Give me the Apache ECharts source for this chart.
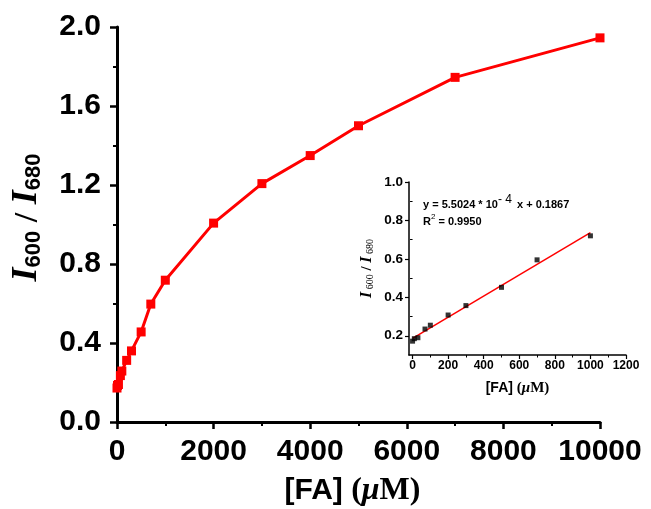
<!DOCTYPE html>
<html>
<head>
<meta charset="utf-8">
<script src="https://cdn.jsdelivr.net/npm/echarts@6/dist/echarts.min.js"></script>
<style>html,body{margin:0;padding:0;background:#fff;}#c{width:651px;height:509px;}</style>
</head>
<body>
<div id="c"></div>
<script>
// Main curve data
var mainX = [0, 10, 30, 70, 100, 200, 300, 500, 700, 1000, 2000, 3000, 4000, 5000, 7000, 10000];
var mainY = [0.172, 0.185, 0.19, 0.235, 0.258, 0.312, 0.36, 0.456, 0.597, 0.718, 1.007, 1.207, 1.349, 1.50, 1.745, 1.945];
// Inset data (linear range)
var insetX = [0, 10, 30, 70, 100, 200, 300, 500, 700, 1000];
var insetY = [0.172, 0.185, 0.19, 0.235, 0.255, 0.308, 0.357, 0.452, 0.595, 0.72];
// Fit
var fitSlope = 5.5024e-4, fitIntercept = 0.1867;
var fitX = [0, 1000];
// Tick labels
var mainXTicks = [0, 2000, 4000, 6000, 8000, 10000];
var mainYTicks = [0.0, 0.4, 0.8, 1.2, 1.6, 2.0];
var insetXTicks = [0, 200, 400, 600, 800, 1000, 1200];
var insetXMinor = [100, 300, 500, 700, 900, 1100];
var insetYTicks = [0.2, 0.4, 0.6, 0.8, 1.0];
var insetYMinor = [0.3, 0.5, 0.7, 0.9];
var eqLine1 = ['y = 5.5024 * 10', '- 4', ' x + 0.1867'];
var eqLine2 = ['R', '2', ' = 0.9950'];

var chart = echarts.init(document.getElementById('c'), null, {renderer: 'canvas'});
var sans = 'Liberation Sans, Arial, sans-serif';
var serif = 'Liberation Serif, Times New Roman, serif';

function pairs(xs, ys) { return xs.map(function (x, i) { return [x, ys[i]]; }); }
function plain(v) { return String(v); }

var option = {
  backgroundColor: '#fff',
  animation: false,
  grid: [
    {left: 117, top: 27, width: 483, height: 395, containLabel: false, outerBoundsMode: 'none'},
    {left: 409, top: 182, width: 217, height: 173, containLabel: false, outerBoundsMode: 'none'}
  ],
  xAxis: [
    {
      type: 'value', gridIndex: 0, min: 0, max: 10000, interval: 2000,
      splitLine: {show: false},
      axisLine: {onZero: false, lineStyle: {color: '#000', width: 3}},
      axisTick: {length: 7, lineStyle: {width: 2.5, color: '#000'}},
      minorTick: {show: true, splitNumber: 2, length: 4, lineStyle: {width: 2, color: '#000'}},
      axisLabel: {margin: 15, fontFamily: sans, fontWeight: 'bold', fontSize: 30, color: '#000',
        formatter: plain},
      name: '{a|[FA] }{b|(}{c|μ}{b|M)}',
      nameLocation: 'middle', nameGap: 53,
      nameTextStyle: {padding: [0, 12, 0, 0], rich: {
        a: {fontFamily: sans, fontWeight: 'bold', fontSize: 30, color: '#000'},
        b: {fontFamily: serif, fontWeight: 'bold', fontSize: 32, color: '#000'},
        c: {fontFamily: serif, fontWeight: 'bold', fontStyle: 'italic', fontSize: 32, color: '#000'}
      }}
    },
    {
      type: 'value', gridIndex: 1, min: -20, max: 1200, position: 'bottom',
      splitLine: {show: false},
      axisLine: {onZero: false, lineStyle: {color: '#000', width: 1.5}},
      axisTick: {length: 4, lineStyle: {width: 1.2, color: '#000'}, customValues: insetXTicks},
      axisLabel: {margin: 5, fontFamily: sans, fontWeight: 'bold', fontSize: 12, color: '#000',
        customValues: insetXTicks, formatter: plain},
      name: '{a|[FA] }{b|(}{c|μ}{b|M)}',
      nameLocation: 'middle', nameGap: 26,
      nameTextStyle: {rich: {
        a: {fontFamily: sans, fontWeight: 'bold', fontSize: 14, color: '#000'},
        b: {fontFamily: serif, fontWeight: 'bold', fontSize: 15, color: '#000'},
        c: {fontFamily: serif, fontWeight: 'bold', fontStyle: 'italic', fontSize: 15, color: '#000'}
      }}
    },
    {
      type: 'value', gridIndex: 1, min: -20, max: 1200, position: 'bottom',
      splitLine: {show: false},
      axisLine: {show: false},
      axisTick: {length: 2.5, lineStyle: {width: 1, color: '#000'}, customValues: insetXMinor},
      axisLabel: {show: false}
    }
  ],
  yAxis: [
    {
      type: 'value', gridIndex: 0, min: 0, max: 2.0, interval: 0.4,
      splitLine: {show: false},
      axisLine: {onZero: false, lineStyle: {color: '#000', width: 3}},
      axisTick: {length: 7, lineStyle: {width: 2.5, color: '#000'}},
      minorTick: {show: true, splitNumber: 2, length: 4, lineStyle: {width: 2, color: '#000'}},
      axisLabel: {margin: 16, fontFamily: sans, fontWeight: 'bold', fontSize: 30, color: '#000',
        formatter: function (v) { return v.toFixed(1); }},
      name: '{i|I}{s|600}{t| / }{i|I}{s|680}',
      nameLocation: 'middle', nameGap: 72, nameRotate: 90,
      nameTextStyle: {padding: [0, 0, 0, 14], rich: {
        i: {fontFamily: serif, fontWeight: 'bold', fontStyle: 'italic', fontSize: 36, color: '#000', lineHeight: 38, verticalAlign: 'bottom'},
        s: {fontFamily: sans, fontWeight: 'bold', fontSize: 22, color: '#000', verticalAlign: 'bottom', lineHeight: 38, padding: [15, 0, 0, 0]},
        t: {fontFamily: serif, fontWeight: 'bold', fontSize: 34, color: '#000', lineHeight: 38, verticalAlign: 'bottom'}
      }}
    },
    {
      type: 'value', gridIndex: 1, min: 0.1, max: 1.0, position: 'left',
      splitLine: {show: false},
      axisLine: {onZero: false, lineStyle: {color: '#000', width: 1.5}},
      axisTick: {length: 4, lineStyle: {width: 1.2, color: '#000'}, customValues: insetYTicks},
      axisLabel: {margin: 6, fontFamily: sans, fontWeight: 'bold', fontSize: 13.5, color: '#000',
        customValues: insetYTicks, formatter: function (v) { return v.toFixed(1); }},
      name: '{i|I}{s| 600}{t| / }{i|I}{s| 680}',
      nameLocation: 'middle', nameGap: 34, nameRotate: 90,
      nameTextStyle: {rich: {
        i: {fontFamily: serif, fontWeight: 'bold', fontStyle: 'italic', fontSize: 16, color: '#000', lineHeight: 18, verticalAlign: 'bottom'},
        s: {fontFamily: serif, fontSize: 10, color: '#000', verticalAlign: 'bottom', lineHeight: 18, padding: [7, 0, 0, 0]},
        t: {fontFamily: serif, fontWeight: 'bold', fontSize: 15, color: '#000', lineHeight: 18, verticalAlign: 'bottom'}
      }}
    },
    {
      type: 'value', gridIndex: 1, min: 0.1, max: 1.0, position: 'left',
      splitLine: {show: false},
      axisLine: {show: false},
      axisTick: {length: 2.5, lineStyle: {width: 1, color: '#000'}, customValues: insetYMinor},
      axisLabel: {show: false}
    }
  ],
  series: [
    {
      type: 'line', xAxisIndex: 0, yAxisIndex: 0,
      data: pairs(mainX, mainY),
      symbol: 'rect', symbolSize: 9,
      lineStyle: {color: '#ff0000', width: 3},
      itemStyle: {color: '#ff0000'}
    },
    {
      type: 'line', xAxisIndex: 1, yAxisIndex: 1,
      data: fitX.map(function (x) { return [x, fitIntercept + fitSlope * x]; }),
      symbol: 'none',
      lineStyle: {color: '#ff0000', width: 1.5}
    },
    {
      type: 'scatter', xAxisIndex: 1, yAxisIndex: 1,
      data: pairs(insetX, insetY),
      symbol: 'rect', symbolSize: 5,
      itemStyle: {color: '#000'}, z: 5
    }
  ],
  graphic: [
    {
      type: 'text', left: 423, top: 194,
      style: {
        text: '{a|' + eqLine1[0] + '}{sup|' + eqLine1[1] + '}{a|' + eqLine1[2] + '}',
        rich: {
          a: {fontFamily: sans, fontWeight: 'bold', fontSize: 11, fill: '#000', verticalAlign: 'bottom', lineHeight: 16},
          sup: {fontFamily: sans, fontSize: 12, fill: '#000', verticalAlign: 'top', lineHeight: 14, padding: [0, 2, 2, 0]}
        }
      }
    },
    {
      type: 'text', left: 423, top: 213,
      style: {
        text: '{a|' + eqLine2[0] + '}{sup|' + eqLine2[1] + '}{a|' + eqLine2[2] + '}',
        rich: {
          a: {fontFamily: sans, fontWeight: 'bold', fontSize: 11, fill: '#000', verticalAlign: 'bottom', lineHeight: 14},
          sup: {fontFamily: sans, fontSize: 8, fill: '#000', verticalAlign: 'top', lineHeight: 10, padding: [0, 0, 4, 0]}
        }
      }
    }
  ]
};
chart.setOption(option);
</script>
</body>
</html>
